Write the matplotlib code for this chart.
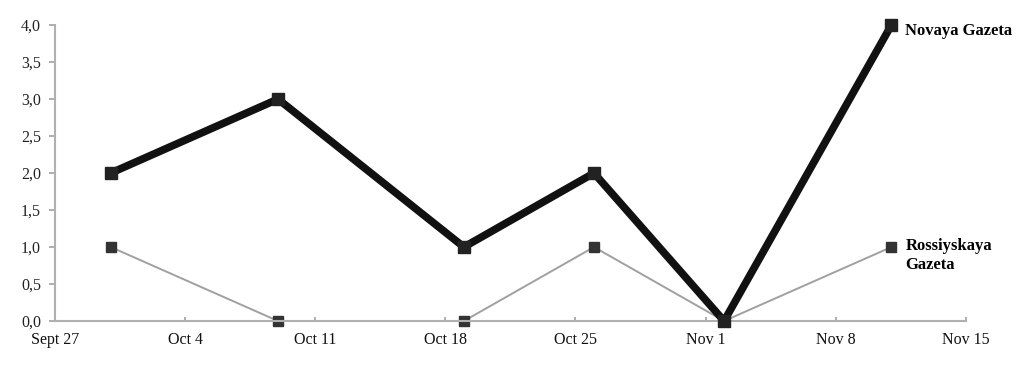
import datetime as dt
import matplotlib
matplotlib.use("Agg")
import matplotlib.pyplot as plt

dates = [dt.date(2008, 9, 30), dt.date(2008, 10, 9), dt.date(2008, 10, 19),
         dt.date(2008, 10, 26), dt.date(2008, 11, 2), dt.date(2008, 11, 11)]
novaya = [2, 3, 1, 2, 0, 4]
rossiyskaya = [1, 0, 0, 1, 0, 1]

tick_dates = [dt.date(2008, 9, 27) + dt.timedelta(days=7 * i) for i in range(8)]
tick_labels = ["Sept 27", "Oct 4", "Oct 11", "Oct 18", "Oct 25", "Nov 1", "Nov 8", "Nov 15"]
y_ticks = [0, 0.5, 1, 1.5, 2, 2.5, 3, 3.5, 4]

plt.rcParams['font.family'] = ['Liberation Serif', 'DejaVu Serif']

fig = plt.figure(figsize=(10.24, 3.69), dpi=100)
ax = fig.add_axes([0.0537, 0.130, 0.8894, 0.802])

ax.plot(dates, rossiyskaya, color='#a0a0a0', lw=1.4, marker='s', ms=7.5,
        mfc='#333333', mec='#333333', zorder=2, clip_on=False)
ax.plot(dates, novaya, color='#111111', lw=5.5, marker='s', ms=8,
        mfc='#222222', mec='#222222', zorder=3, clip_on=False)

ax.set_xlim(tick_dates[0], tick_dates[-1])
ax.set_ylim(0, 4)
ax.set_xticks(tick_dates)
ax.set_xticklabels(tick_labels, fontsize=11.5)
ax.set_yticks(y_ticks)
ax.set_yticklabels([f"{v:.1f}".replace('.', ',') for v in y_ticks], fontsize=11.5)

for s in ['top', 'right']:
    ax.spines[s].set_visible(False)
for s in ['left', 'bottom']:
    ax.spines[s].set_color('#b0b0b0')
    ax.spines[s].set_linewidth(1.5)
ax.tick_params(axis='y', colors='#a0a0a0', labelcolor='#222222', length=4, width=1.2, pad=6)
ax.tick_params(axis='x', colors='#a0a0a0', labelcolor='#111111', length=3, width=1.2,
               direction='in', pad=8)

ax.annotate("Novaya Gazeta", xy=(dates[-1], novaya[-1]), xytext=(10, -4),
            textcoords='offset points', fontsize=12, fontweight='bold',
            va='center', ha='left', annotation_clip=False)
ax.annotate("Rossiyskaya\nGazeta", xy=(dates[-1], rossiyskaya[-1]), xytext=(10, -6),
            textcoords='offset points', fontsize=12, fontweight='bold',
            va='center', ha='left', annotation_clip=False, linespacing=1.2)

fig.savefig("out.png", dpi=100)
